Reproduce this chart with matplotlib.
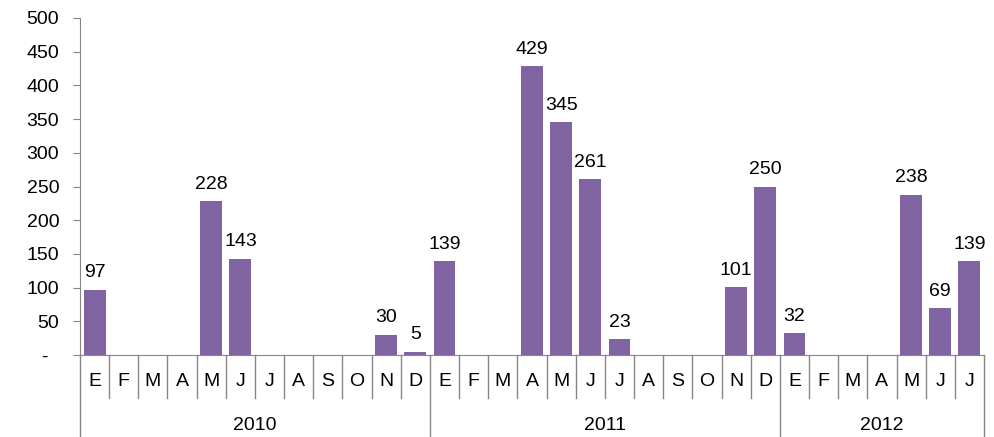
import numpy as np
import matplotlib.pyplot as plt

plt.rcParams['font.family'] = ['Liberation Sans', 'DejaVu Sans']

months = ['E', 'F', 'M', 'A', 'M', 'J', 'J', 'A', 'S', 'O', 'N', 'D',
          'E', 'F', 'M', 'A', 'M', 'J', 'J', 'A', 'S', 'O', 'N', 'D',
          'E', 'F', 'M', 'A', 'M', 'J', 'J']
values = [97, 0, 0, 0, 228, 143, 0, 0, 0, 0, 30, 5,
          139, 0, 0, 429, 345, 261, 23, 0, 0, 0, 101, 250,
          32, 0, 0, 0, 238, 69, 139]
years = ['2010', '2011', '2012']
year_counts = [12, 12, 7]

bar_color = '#8064A2'
line_color = '#868686'

fig = plt.figure(figsize=(9.94, 4.37), dpi=100)
ax = fig.add_axes([80 / 994, 1 - 355 / 437, 904 / 994, 337 / 437])

x = np.arange(len(values))
ax.bar(x, values, width=0.75, color=bar_color)
for xi, v in zip(x, values):
    if v > 0:
        ax.annotate(str(v), (xi, v), xytext=(0, 6), textcoords='offset points',
                    ha='center', va='bottom', fontsize=14)

ax.set_xlim(-0.5, len(values) - 0.5)
ax.set_ylim(0, 500)
ax.set_yticks(range(0, 501, 50))
# excel accounting style: zero shown as a dash, pushed left
ax.set_yticklabels(['-  '] + [str(t) for t in range(50, 501, 50)], fontsize=14)
ax.tick_params(axis='y', length=5, color=line_color, pad=10)
ax.set_xticks([])
for s in ['top', 'right']:
    ax.spines[s].set_visible(False)
for s in ['left', 'bottom']:
    ax.spines[s].set_color(line_color)

tr = ax.get_xaxis_transform()
for xi, m in zip(x, months):
    ax.text(xi, -0.08, m, transform=tr, ha='center', va='center', fontsize=14)

# month separators and year separators
bounds = np.cumsum([0] + year_counts) - 0.5
for b in np.arange(-0.5, len(values)):
    bottom = -0.243 if np.any(np.isclose(bounds, b)) else -0.128
    ax.plot([b, b], [0, bottom], transform=tr, color=line_color, lw=1, clip_on=False)
for i, y in enumerate(years):
    mid = (bounds[i] + bounds[i + 1]) / 2
    ax.text(mid, -0.208, y, transform=tr, ha='center', va='center', fontsize=14)

fig.savefig('out.png', dpi=100)
